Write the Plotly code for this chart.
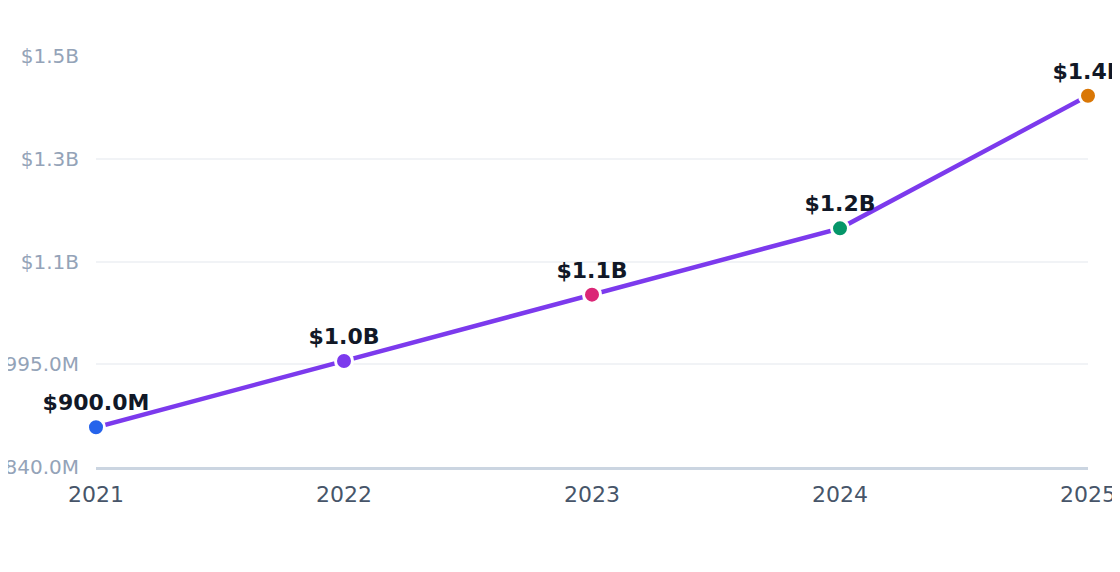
import plotly.graph_objects as go

years = ["2021", "2022", "2023", "2024", "2025"]
revenue = [900, 1000, 1100, 1200, 1400]  # millions
point_labels = ["$900.0M", "$1.0B", "$1.1B", "$1.2B", "$1.4B"]
point_colors = ["#2563eb", "#7c3aed", "#db2777", "#059669", "#d97706"]
y_ticks = [840, 995, 1150, 1305, 1460]
y_tick_labels = ["$840.0M", "$995.0M", "$1.1B", "$1.3B", "$1.5B"]

fig = go.Figure()

fig.add_trace(go.Scatter(
    x=years,
    y=revenue,
    mode="lines+markers+text",
    line=dict(color="#7c3aed", width=4.5),
    marker=dict(size=17, color=point_colors, line=dict(color="white", width=3)),
    text=point_labels,
    textposition="top center",
    textfont=dict(family="DejaVu Sans", size=22, color="#111827", weight="bold"),
    cliponaxis=False,
    hoverinfo="skip",
))

# page body adds an 8px offset, so margins are 8px smaller on left/top
fig.update_layout(
    width=1120,
    height=572,
    margin=dict(l=88, r=40, t=48, b=113),
    paper_bgcolor="white",
    plot_bgcolor="white",
    showlegend=False,
    font=dict(family="DejaVu Sans"),
)

fig.update_xaxes(
    type="category",
    range=[0, 4],
    showgrid=False,
    showline=True,
    linecolor="#cbd5e1",
    linewidth=2.5,
    ticks="",
    ticklabelstandoff=6,
    tickfont=dict(size=22, color="#475569"),
    automargin=False,
)

fig.update_yaxes(
    range=[840, 1460],
    tickvals=y_ticks,
    ticktext=y_tick_labels,
    showgrid=True,
    gridcolor="#f1f3f6",
    gridwidth=2,
    zeroline=False,
    showline=False,
    ticks="",
    ticklabelstandoff=16,
    tickfont=dict(size=20, color="#94a3b8"),
    automargin=False,
)

fig.write_html("out.html")
